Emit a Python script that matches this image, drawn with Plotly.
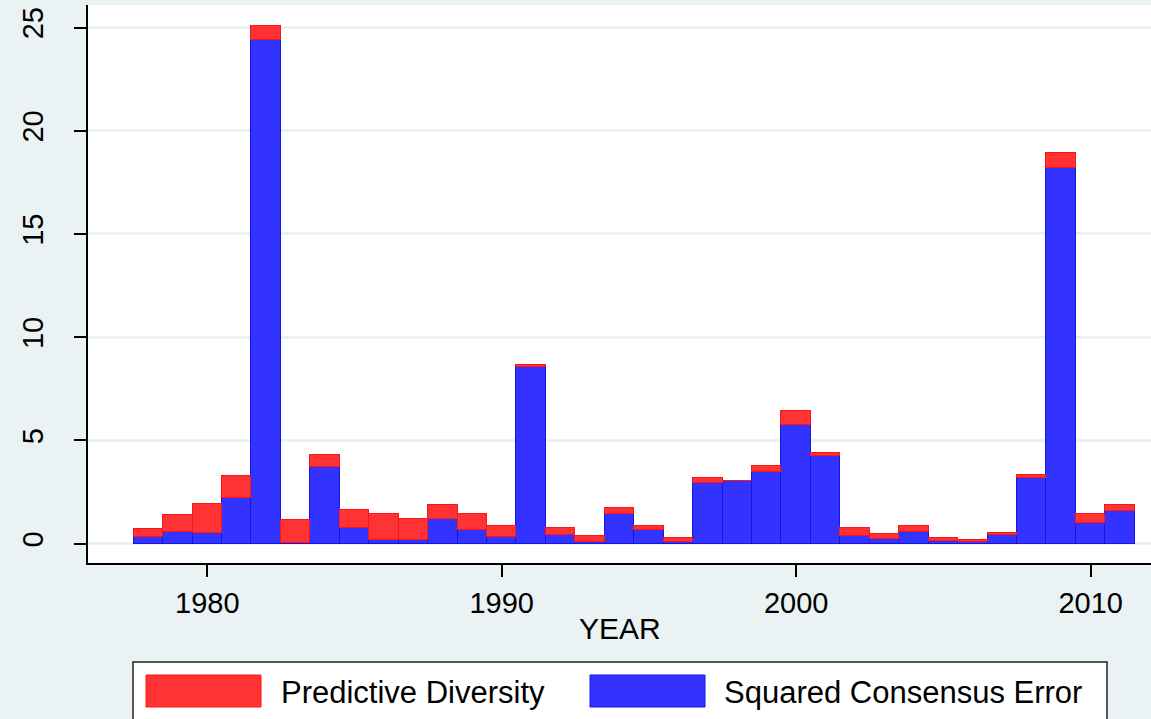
import plotly.graph_objects as go

# Annual decomposition: squared consensus error plus predictive diversity
years = list(range(1978, 2012))

consensus_error = [
    0.32, 0.58, 0.53, 2.21, 24.38, 0.05, 3.71, 0.74, 0.16, 0.19,
    1.18, 0.68, 0.34, 8.55, 0.42, 0.07, 1.44, 0.66, 0.07, 2.94,
    3.03, 3.48, 5.76, 4.24, 0.37, 0.21, 0.58, 0.13, 0.07, 0.42,
    3.19, 18.21, 1.00, 1.58,
]

predictive_diversity = [
    0.41, 0.80, 1.41, 1.06, 0.69, 1.08, 0.61, 0.87, 1.29, 1.03,
    0.71, 0.76, 0.50, 0.10, 0.35, 0.29, 0.27, 0.21, 0.21, 0.22,
    0.02, 0.26, 0.65, 0.13, 0.38, 0.24, 0.26, 0.15, 0.09, 0.10,
    0.13, 0.73, 0.45, 0.28,
]

x_ticks = [1980, 1990, 2000, 2010]
y_ticks = [0, 5, 10, 15, 20, 25]

RED_FILL = "rgb(255,51,51)"
RED_LINE = "rgb(255,20,20)"
BLUE_FILL = "rgb(51,51,255)"
BLUE_LINE = "rgb(20,20,230)"
BG = "#EAF2F3"
FONT = "Liberation Sans, Arial, sans-serif"

W, H = 1151, 719
M_L, M_R, M_T, M_B = 88, 0, 5, 156
PW = W - M_L - M_R
PH = H - M_T - M_B


def px_x(px):
    return (px - M_L) / PW


def px_y(py):
    return (H - M_B - py) / PH


fig = go.Figure()
fig.add_trace(go.Bar(
    x=years, y=consensus_error, width=1,
    name="Squared Consensus Error",
    marker=dict(color=BLUE_FILL, line=dict(color=BLUE_LINE, width=1)),
))
fig.add_trace(go.Bar(
    x=years, y=predictive_diversity, width=1,
    name="Predictive Diversity",
    marker=dict(color=RED_FILL, line=dict(color=RED_LINE, width=1)),
))

# Legend drawn as a framed box with wide colour swatches
shapes = [
    dict(type="rect", xref="paper", yref="paper",
         x0=px_x(133), x1=px_x(1107), y0=px_y(740), y1=px_y(662),
         line=dict(color="#222222", width=1.5), fillcolor="white", layer="above"),
    dict(type="rect", xref="paper", yref="paper",
         x0=px_x(146), x1=px_x(261), y0=px_y(707), y1=px_y(675),
         line=dict(color=RED_LINE, width=1), fillcolor=RED_FILL, layer="above"),
    dict(type="rect", xref="paper", yref="paper",
         x0=px_x(590), x1=px_x(705), y0=px_y(707), y1=px_y(675),
         line=dict(color=BLUE_LINE, width=1), fillcolor=BLUE_FILL, layer="above"),
]

annotations = [
    dict(text="YEAR", xref="paper", yref="paper", x=0.5, y=px_y(628),
         xanchor="center", yanchor="middle", showarrow=False,
         font=dict(family=FONT, size=30, color="black")),
    dict(text="Predictive Diversity", xref="paper", yref="paper",
         x=px_x(279), y=px_y(692), xanchor="left", yanchor="middle",
         showarrow=False, font=dict(family=FONT, size=31, color="black")),
    dict(text="Squared Consensus Error", xref="paper", yref="paper",
         x=px_x(722), y=px_y(692), xanchor="left", yanchor="middle",
         showarrow=False, font=dict(family=FONT, size=31, color="black")),
]

fig.update_layout(
    width=W, height=H,
    margin=dict(l=M_L, r=M_R, t=M_T, b=M_B, pad=0),
    barmode="stack", bargap=0,
    showlegend=False,
    paper_bgcolor=BG, plot_bgcolor="white",
    font=dict(family=FONT, size=29, color="black"),
    shapes=shapes, annotations=annotations,
    xaxis=dict(
        range=[1975.95, 2012.05], tickvals=x_ticks,
        showgrid=False, zeroline=False,
        showline=True, linecolor="black", linewidth=2,
        ticks="outside", ticklen=12, tickwidth=1.5, tickcolor="black",
        ticklabelstandoff=1,
        tickfont=dict(family=FONT, size=29, color="black"),
    ),
    yaxis=dict(
        range=[-0.935, 26.09], tickvals=y_ticks, tickangle=-90,
        showgrid=True, gridcolor=BG, gridwidth=3, zeroline=False,
        showline=True, linecolor="black", linewidth=2,
        ticks="outside", ticklen=12, tickwidth=1.5, tickcolor="black",
        ticklabelstandoff=19,
        tickfont=dict(family=FONT, size=29, color="black"),
    ),
)

fig.write_html("out.html")
